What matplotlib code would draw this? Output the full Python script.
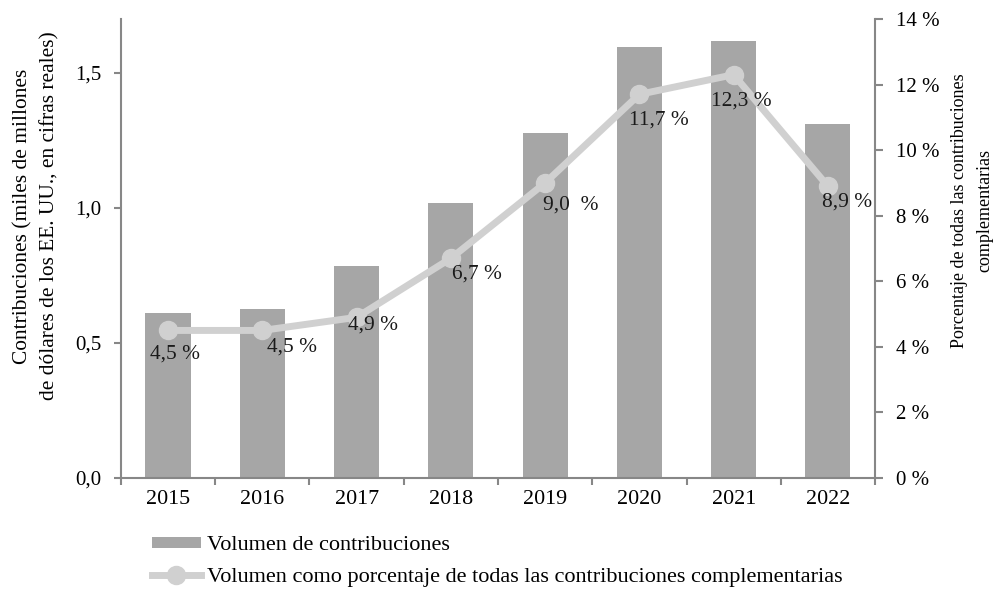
import matplotlib.pyplot as plt
from matplotlib.ticker import FuncFormatter

# data
years = ["2015", "2016", "2017", "2018", "2019", "2020", "2021", "2022"]
contribuciones = [0.61, 0.625, 0.785, 1.02, 1.278, 1.597, 1.62, 1.31]
porcentaje = [4.5, 4.5, 4.9, 6.7, 9.0, 11.7, 12.3, 8.9]
etiquetas = ["4,5 %", "4,5 %", "4,9 %", "6,7 %", "9,0  %", "11,7 %", "12,3 %", "8,9 %"]

# label offsets in pixels (style only)
offsets = [(7, -24), (30, -17), (16, -8), (26, -16), (26, -22), (20, -26), (8, -26), (19, -16)]

plt.rcParams['font.family'] = ['Liberation Serif', 'DejaVu Serif']
plt.rcParams['font.size'] = 15

bar_color = "#a6a6a6"
line_color = "#d0d0d0"
spine_color = "#878787"

fig = plt.figure(figsize=(9.95, 5.92), dpi=100)
ax = fig.add_axes([0.1216, 0.1926, 0.7578, 0.7754])
x = list(range(len(years)))

bars = ax.bar(x, contribuciones, width=0.48, color=bar_color, zorder=2,
              label="Volumen de contribuciones")
ax.set_xlim(-0.5, len(years) - 0.5)
ax.set_ylim(0, 1.7)
ax.set_yticks([0, 0.5, 1.0, 1.5])
ax.yaxis.set_major_formatter(FuncFormatter(lambda v, p: ("%.1f" % v).replace(".", ",")))
ax.set_xticks(x)
ax.set_xticklabels(years, fontsize=15.8)
ax.tick_params(axis="x", length=0, pad=9)
ax.set_xticks([i - 0.5 for i in range(len(years) + 1)], minor=True)
ax.tick_params(axis="x", which="minor", length=5, width=1.5, color=spine_color, direction="out")
ax.tick_params(axis="y", length=5, width=1.5, color=spine_color, pad=9)
for s in ["top", "right"]:
    ax.spines[s].set_visible(False)
for s in ["left", "bottom"]:
    ax.spines[s].set_color(spine_color)
    ax.spines[s].set_linewidth(1.5)

ax2 = ax.twinx()
line, = ax2.plot(x, porcentaje, color=line_color, lw=5, marker="o", markersize=13,
                 zorder=3, label="Volumen como porcentaje de todas las contribuciones complementarias")
ax2.set_ylim(0, 14)
ax2.set_yticks(range(0, 15, 2))
ax2.set_yticklabels(["%d %%" % v for v in range(0, 15, 2)])
ax2.tick_params(axis="y", length=6, width=1.5, color=spine_color, pad=9)
for s in ["top", "left", "bottom"]:
    ax2.spines[s].set_visible(False)
ax2.spines["right"].set_color(spine_color)
ax2.spines["right"].set_linewidth(1.5)

for xi, yi, lab, off in zip(x, porcentaje, etiquetas, offsets):
    ax2.annotate(lab, (xi, yi), xytext=off, textcoords="offset pixels",
                 ha="center", va="center", fontsize=15.4, color="#1a1a1a", zorder=4)

# axis titles placed in figure coordinates
fig.text(0.0367, 1 - 216 / 592, "Contribuciones (miles de millones\nde dólares de los EE. UU., en cifras reales)",
         rotation=90, ha="center", va="center", fontsize=15.4, linespacing=1.5,
         multialignment="center")
fig.text(0.9769, 1 - 211 / 592, "Porcentaje de todas las contribuciones\ncomplementarias",
         rotation=90, ha="center", va="center", fontsize=13, linespacing=1.6,
         multialignment="center")

fig.legend(handles=[bars, line], loc="center left", bbox_to_anchor=(0.1528, 1 - 561.5 / 592),
           frameon=False, handlelength=2.2, handleheight=0.45, handletextpad=0.27,
           labelspacing=0.55, borderaxespad=0, borderpad=0, fontsize=16)

fig.savefig("out.png", dpi=100)
